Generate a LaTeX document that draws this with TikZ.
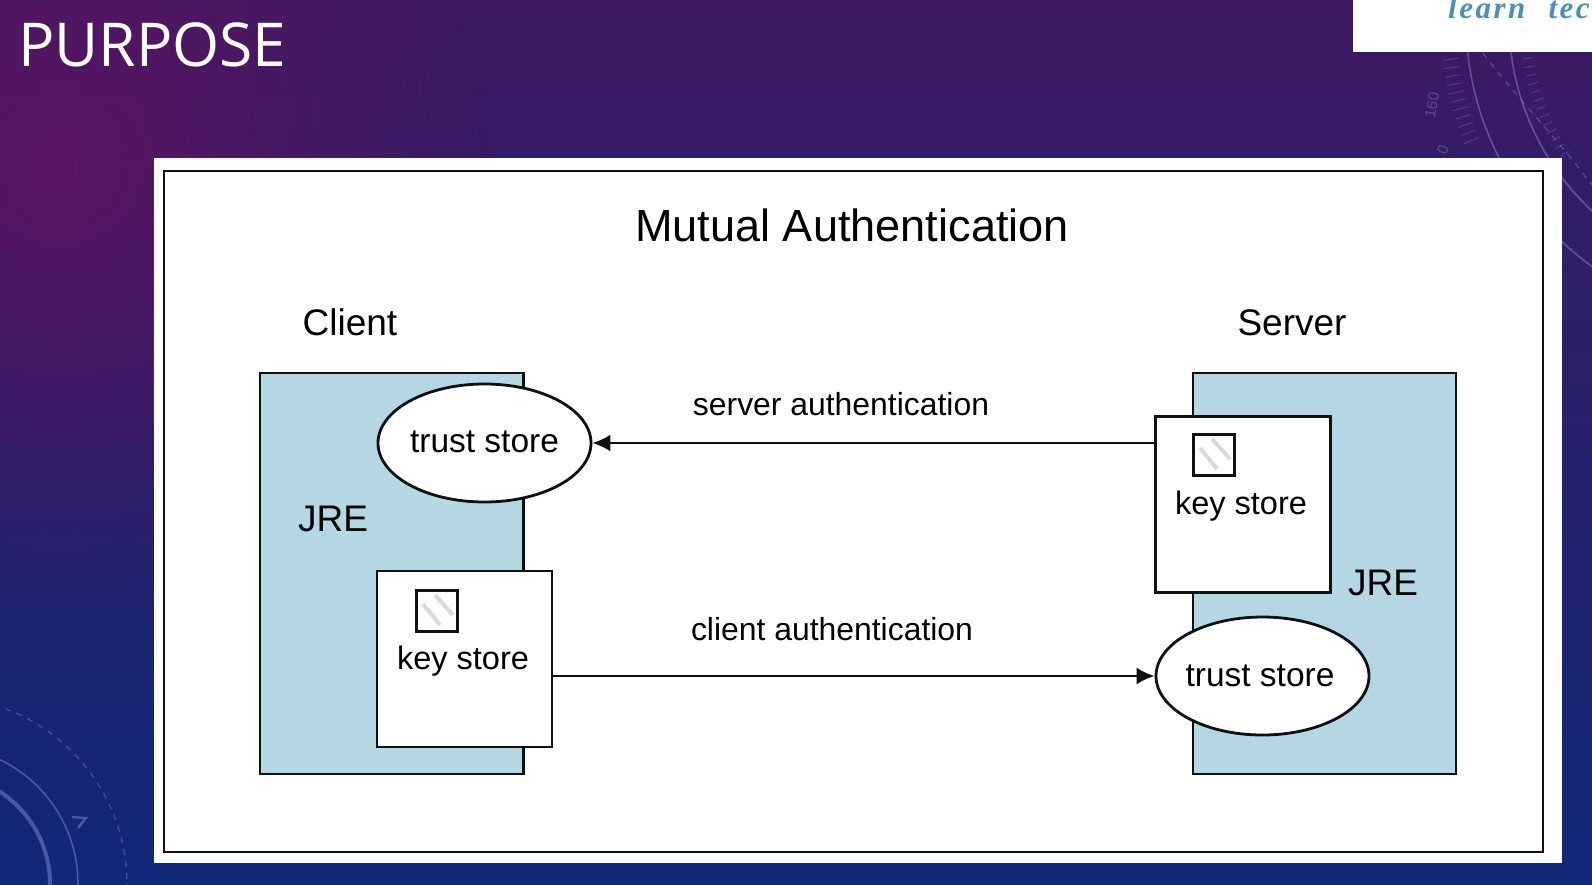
\documentclass[tikz,border=0pt]{standalone}
\usepackage{fontspec}
\setmainfont{Liberation Sans}
\newfontfamily\slidefont{Open Sans}
\newfontfamily\logofont[LetterSpace=8]{Liberation Serif}
\usetikzlibrary{arrows.meta, fadings, shapes.geometric}
\definecolor{slide top}{HTML}{3D1A62}
\definecolor{slide mid}{HTML}{2E1E72}
\definecolor{slide low}{HTML}{102878}
\definecolor{slide glow}{HTML}{661260}
\definecolor{jre blue}{HTML}{B5D7E4}
\definecolor{edge dark}{HTML}{101014}
\definecolor{logo blue}{HTML}{4F8FB4}
\colorlet{deco}{white!70!blue}
\tikzfading[name=glowfade, inner color=transparent!25, outer color=transparent!100]
\tikzset{
  label13/.style={font=\fontsize{32.5}{36}\selectfont, inner sep=0pt},
  label14/.style={font=\fontsize{33.5}{36}\selectfont, inner sep=0pt},
  label15/.style={font=\fontsize{37}{40}\selectfont, inner sep=0pt},
  authlabel/.style={font=\fontsize{31.9}{36}\selectfont, inner sep=0pt},
  jrebox/.style={draw=edge dark, fill=jre blue, line width=2.8pt},
  storebox/.style={draw=edge dark, fill=white, line width=2.8pt, minimum width=175pt, minimum height=176pt, inner sep=0pt},
  trustoval/.style={ellipse, draw=edge dark, fill=white, line width=2.8pt, minimum width=213pt, minimum height=118pt, inner sep=0pt},
  keyicon/.style={draw=edge dark, fill=white, line width=2.8pt, minimum size=41pt, inner sep=0pt, path picture={
    \draw[black!15, line width=4pt] ([shift={(-14pt,7pt)}]path picture bounding box.center) -- ++(17pt,-21pt);
    \draw[black!15, line width=4pt] ([shift={(-2pt,16pt)}]path picture bounding box.center) -- ++(18pt,-20pt);
  }},
  link/.style={-{Latex[length=18pt,width=17pt]}, draw=edge dark, line width=2.6pt},
  decoline/.style={draw=deco, line width=1.6pt, opacity=0.35},
  decodash/.style={draw=deco, line width=1.2pt, opacity=0.3, dash pattern=on 6pt off 6pt},
  decotick/.style={draw=deco, line width=1pt, opacity=0.2},
  decotext/.style={text=deco, opacity=0.3, font=\fontsize{15}{15}\selectfont, inner sep=0pt}
}
\begin{document}
\begin{tikzpicture}[x=1pt,y=-1pt]
    \useasboundingbox (0,0) rectangle (1592,884);
    % slide background
    \shade[top color=slide top, middle color=slide mid, bottom color=slide low, shading angle=0] (0,0) rectangle (1592,884);
    \begin{scope}
        \clip (0,0) rectangle (1592,884);
        \fill[slide glow, path fading=glowfade] (60,170) circle (430);
        \draw[decoline] (1770,20) circle (304);
        \draw[decoline] (1770,20) circle (261);
        \draw[decodash] (1483,53) .. controls (1510,90) and (1550,130) .. (1592,185);
        \foreach \a in {158,159.5,...,174} {
            \draw[decotick] (1770,20) ++(\a:314) -- ++(\a:16);
        }
        \foreach \a in {147,149,...,171} {
            \draw[decotick] (1770,20) ++(\a:240) -- ++(\a:10);
        }
        \draw[decoline, line width=4pt] (-60,884) circle (110);
        \draw[decoline] (-60,884) circle (138);
        \draw[decodash] (-60,884) circle (187);
        \draw[decoline, line width=2.4pt] (72,817) -- (86,818) -- (78,828);
    \end{scope}
    \node[decotext, rotate=80] (tick160) at (1432,105) {160};
    \node[decotext, rotate=70] (tick0) at (1443,150) {0};
    \node[anchor=base west, text=white, inner sep=0pt, font=\slidefont\fontsize{60.5}{62}\selectfont] (slidetitle) at (18,66) {PURPOSE};
    % logo corner
    \fill[white] (1353,0) rectangle (1592,52);
    \begin{scope}
        \clip (1353,0) rectangle (1592,52);
        \node[anchor=base west, text=logo blue, inner sep=0pt, font=\logofont\bfseries\itshape\fontsize{31}{31}\selectfont] (logotext) at (1448,18) {learn\hspace{13pt} tec};
    \end{scope}
    % panel
    \fill[white] (154,158) rectangle (1562,863);
    \draw[edge dark, line width=2.8pt] (164,171) rectangle (1543,852);
    \node[font=\fontsize{45.1}{48}\selectfont, inner sep=0pt] (title) at (852,225) {Mutual Authentication};
    \node[label15] (client) at (350,322) {Client};
    \node[label15] (server) at (1292,323) {Server};
    % JRE boxes
    \draw[jrebox] (260,373) rectangle (523.5,774);
    \draw[jrebox] (1193,373) rectangle (1456,774);
    \node[label15] (jreclient) at (333,519) {JRE};
    \node[label15] (jreserver) at (1383,583) {JRE};
    \node[storebox] (clientkey) at (464.5,659) {};
    \node[storebox] (serverkey) at (1243,504.5) {};
    \node[keyicon] (clienticon) at (437,611) {};
    \node[keyicon] (servericon) at (1214,455) {};
    \node[label13] (clientkeytext) at (463,661) {key store};
    \node[label13] (serverkeytext) at (1241,506) {key store};
    \node[trustoval] (clienttrust) at (484.5,443) {};
    \node[trustoval] (servertrust) at (1262.5,676) {};
    \node[label14] (clienttrusttext) at (484.5,442) {trust store};
    \node[label14] (servertrusttext) at (1260,676) {trust store};
    \draw[link] (serverkey.west |- clienttrust.east) -- (clienttrust.east);
    \draw[link] (clientkey.east |- servertrust.west) -- (servertrust.west);
    \node[authlabel] (serverauth) at (841,404) {server authentication};
    \node[authlabel] (clientauth) at (832,629) {client authentication};
\end{tikzpicture}
\end{document}
